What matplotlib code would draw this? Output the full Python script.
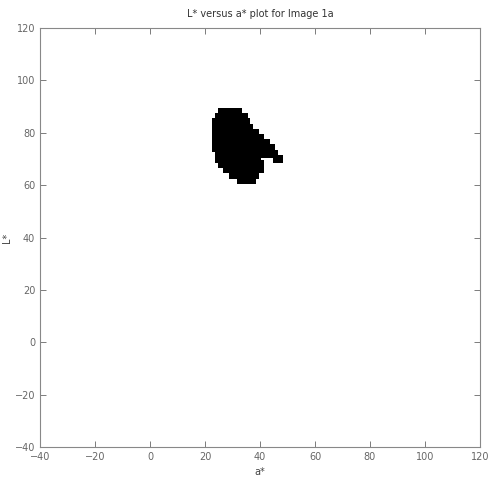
import matplotlib
matplotlib.use("Agg")
import matplotlib.pyplot as plt

# a* / L* pixel samples (L* step 2)
a_star = [26, 28, 30, 32,
          25, 27, 29, 31, 33, 34,
          24, 26, 28, 30, 32, 34, 35,
          24, 26, 28, 30, 32, 34, 36,
          24, 26, 28, 30, 32, 34, 36, 38,
          24, 26, 28, 30, 32, 34, 36, 38, 40,
          24, 26, 28, 30, 32, 34, 36, 38, 40, 42,
          24, 26, 28, 30, 32, 34, 36, 38, 40, 42, 44,
          25, 27, 29, 31, 33, 35, 37, 39, 41, 43, 45,
          25, 27, 29, 31, 33, 35, 37, 39, 46, 47,
          26, 28, 30, 32, 34, 36, 38, 40,
          28, 30, 32, 34, 36, 38, 40,
          30, 32, 34, 36, 38,
          33, 35, 37]
L_star = [88, 88, 88, 88,
          86, 86, 86, 86, 86, 86,
          84, 84, 84, 84, 84, 84, 84,
          82, 82, 82, 82, 82, 82, 82,
          80, 80, 80, 80, 80, 80, 80, 80,
          78, 78, 78, 78, 78, 78, 78, 78, 78,
          76, 76, 76, 76, 76, 76, 76, 76, 76, 76,
          74, 74, 74, 74, 74, 74, 74, 74, 74, 74, 74,
          72, 72, 72, 72, 72, 72, 72, 72, 72, 72, 72,
          70, 70, 70, 70, 70, 70, 70, 70, 70, 70,
          68, 68, 68, 68, 68, 68, 68, 68,
          66, 66, 66, 66, 66, 66, 66,
          64, 64, 64, 64, 64,
          62, 62, 62]

ticks = [-40, -20, 0, 20, 40, 60, 80, 100, 120]

fig = plt.figure(figsize=(4.89, 4.8), dpi=100)
ax = fig.add_axes([40 / 489, 33 / 480, 440 / 489, 419 / 480])
ax.scatter(a_star, L_star, s=26, c="k", marker="s", linewidths=0)

ax.set_xlim(-40, 120)
ax.set_ylim(-40, 120)
ax.set_xticks(ticks)
ax.set_yticks(ticks)
ax.tick_params(direction="in", top=True, right=True, labelsize=7,
               colors="#666666", length=4, width=0.6)
for s in ax.spines.values():
    s.set_color("#888888")
    s.set_linewidth(0.8)

ax.set_title("L* versus a* plot for Image 1a", fontsize=7, color="#333333", pad=8)
ax.set_xlabel("a*", fontsize=7, color="#444444", labelpad=4)
ax.set_ylabel("L*", fontsize=7, color="#444444", labelpad=2)

fig.savefig("out.png", dpi=100)
